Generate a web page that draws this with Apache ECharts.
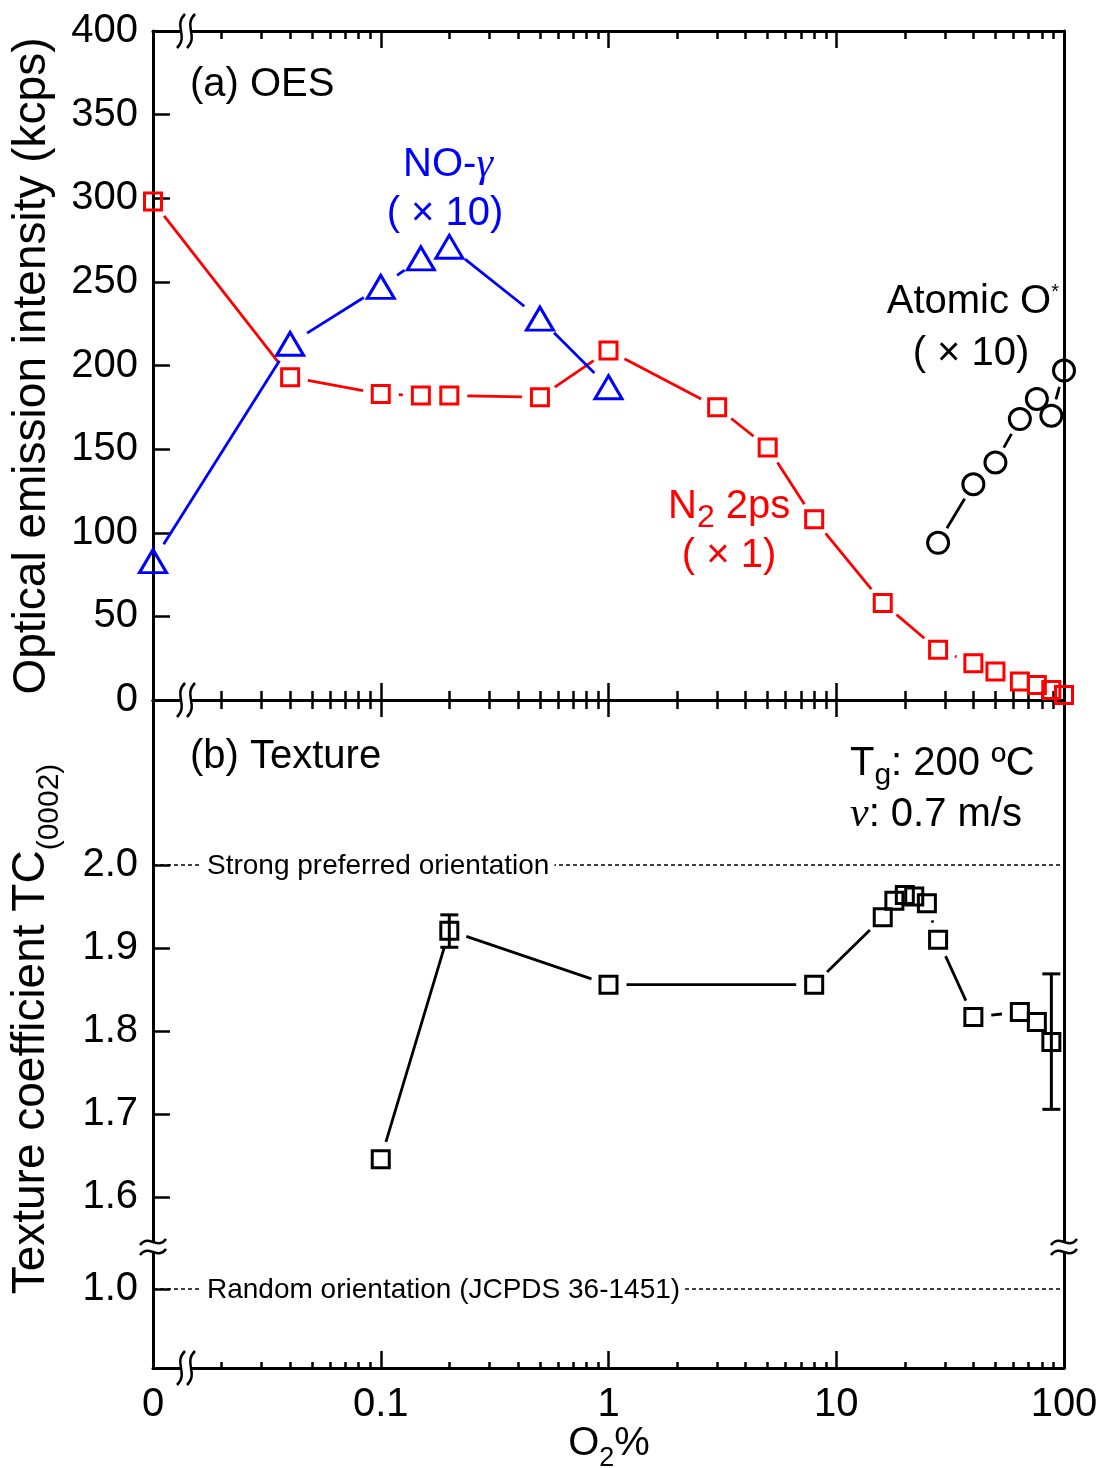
<!DOCTYPE html>
<html>
<head>
<meta charset="utf-8">
<title>OES and texture vs O2 ratio</title>
<script src="https://cdn.jsdelivr.net/npm/echarts@6/dist/echarts.min.js"></script>
<style>
  html, body { margin: 0; padding: 0; background: #fff; }
  #chart { width: 1102px; height: 1468px; }
</style>
</head>
<body>
<div id="chart"></div>
<script>
// ---- data -------------------------------------------------------------
// O2 ratio (%) of each measurement; 0 % is drawn at the left end of the log axis
const O2_N2 = [0, 0.04, 0.1, 0.15, 0.2, 0.5, 1, 3, 5, 8, 16, 28, 40, 50, 64, 76, 88, 100];
const N2_2PS = [298, 193, 183, 182, 182, 181, 209, 175, 151, 108, 58, 30, 22, 17, 11, 9, 6, 3];

const O2_NO = [0, 0.04, 0.1, 0.15, 0.2, 0.5, 1];
const NO_GAMMA_X10 = [83, 213, 247, 264, 271, 228, 187];

const O2_ATOMIC = [28, 40, 50, 64, 76, 88, 100];
const ATOMIC_O_X10 = [94, 129, 142, 168, 180, 170, 197];

const O2_TEX = [0.1, 0.2, 1, 8, 16, 18, 20, 22, 25, 28, 40, 64, 76, 88];
const TC_0002 = [1.646, 1.921, 1.856, 1.856, 1.937, 1.957, 1.964, 1.962, 1.954, 1.910, 1.817, 1.823, 1.811, 1.787];

const TC_ERR_O2 = [0.2, 88];
const TC_ERR_LOW = [1.901, 1.706];
const TC_ERR_HIGH = [1.940, 1.869];

const TC_UPPER_TICKS = [1.6, 1.7, 1.8, 1.9, 2.0];
const TC_LOWER_TICKS = [1.0];
const X_TICK_VALUES = [0.01, 0.1, 1, 10, 100];
const X_TICK_TEXT = ['0', '0.1', '1', '10', '100'];

const STRONG_LEVEL = [2.0];
const STRONG_TEXT = ['Strong preferred orientation'];
const RANDOM_LEVEL = [1.0];
const RANDOM_TEXT = ['Random orientation (JCPDS 36-1451)'];

// ---- helpers ----------------------------------------------------------
const X_MIN = 0.01, X_MAX = 100;
const toX = v => (v === 0 ? X_MIN : v);

const FONT = "'Liberation Sans', Arial, Helvetica, sans-serif";
const SERIF = "'Liberation Serif', 'Times New Roman', serif";
const RED = '#ff0000', BLUE = '#0000ff', BLACK = '#000000';

// frame geometry (px)
const LEFT = 153, RIGHT = 1064, TOP = 31, MID = 700, BRK = 1245, BOTTOM = 1368;
const WIDTH = RIGHT - LEFT;
const PX_PER_TC = 831;  // px per 1.0 of texture coefficient
const TICK_FONT = 40;

function xAxis(gridIndex, position, minorLen, withLabels) {
  return {
    type: 'log', logBase: 10, gridIndex, position, min: X_MIN, max: X_MAX,
    axisLine: { show: true, onZero: false, lineStyle: { color: BLACK, width: 3 } },
    axisTick: { show: true, inside: true, length: 17, lineStyle: { color: BLACK, width: 2.5 } },
    minorTick: { show: true, splitNumber: 9, length: minorLen, lineStyle: { color: BLACK, width: 2.5 } },
    splitLine: { show: false }, minorSplitLine: { show: false },
    axisLabel: withLabels ? {
      show: true, color: BLACK, fontFamily: FONT, fontSize: TICK_FONT, margin: 17,
      formatter: v => {
        const i = X_TICK_VALUES.findIndex(t => Math.abs(Math.log10(t) - Math.log10(v)) < 1e-6);
        return i >= 0 ? X_TICK_TEXT[i] : '';
      }
    } : { show: false }
  };
}

function frameYAxis(gridIndex, min, max) {
  return {
    type: 'value', gridIndex, position: 'right', min, max,
    axisLine: { show: true, onZero: false, lineStyle: { color: BLACK, width: 3 } },
    axisTick: { show: false }, axisLabel: { show: false }, splitLine: { show: false }
  };
}

function tcYAxis(gridIndex, min, max, ticks) {
  return {
    type: 'value', gridIndex, position: 'left', min, max,
    axisLine: { show: true, onZero: false, lineStyle: { color: BLACK, width: 3 } },
    axisTick: { show: true, inside: true, length: 17, customValues: ticks, lineStyle: { color: BLACK, width: 2.5 } },
    axisLabel: { show: true, customValues: ticks, color: BLACK, fontFamily: FONT, fontSize: TICK_FONT, margin: 15,
                 formatter: v => Number(v).toFixed(1) },
    splitLine: { show: false }
  };
}

// connecting lines stop short of each marker
function segments(xs, ys, color, gap, xIdx, yIdx) {
  const data = [];
  for (let i = 0; i < xs.length - 1; i++) data.push([toX(xs[i]), ys[i], toX(xs[i + 1]), ys[i + 1]]);
  return {
    type: 'custom', xAxisIndex: xIdx, yAxisIndex: yIdx, data, z: 3, silent: true, clip: false,
    encode: { x: [0, 2], y: [1, 3] },
    renderItem: (params, api) => {
      const a = api.coord([api.value(0), api.value(1)]);
      const b = api.coord([api.value(2), api.value(3)]);
      const dx = b[0] - a[0], dy = b[1] - a[1], d = Math.hypot(dx, dy);
      if (d <= 2 * gap + 1) return null;
      const ux = dx / d, uy = dy / d;
      return {
        type: 'line',
        shape: { x1: a[0] + ux * gap, y1: a[1] + uy * gap, x2: b[0] - ux * gap, y2: b[1] - uy * gap },
        style: { stroke: color, lineWidth: 2.8 }
      };
    }
  };
}

function markers(xs, ys, color, symbol, size, xIdx, yIdx) {
  return {
    type: 'scatter', xAxisIndex: xIdx, yAxisIndex: yIdx, symbol, symbolSize: size,
    data: xs.map((x, i) => [toX(x), ys[i]]), z: 5, silent: true, clip: false,
    itemStyle: { color: 'rgba(0,0,0,0)', borderColor: color, borderWidth: 3, opacity: 1 }
  };
}

function refLine(levels, texts, xIdx, yIdx) {
  return {
    type: 'custom', xAxisIndex: xIdx, yAxisIndex: yIdx, z: 2, silent: true, clip: false,
    data: levels.map((lv, i) => [X_MIN, lv, X_MAX, i]),
    encode: { x: [0, 2], y: 1 },
    renderItem: (params, api) => {
      const a = api.coord([api.value(0), api.value(1)]);
      const b = api.coord([api.value(2), api.value(1)]);
      return {
        type: 'group',
        children: [
          { type: 'line', shape: { x1: a[0], y1: a[1], x2: b[0], y2: b[1] },
            style: { stroke: BLACK, lineWidth: 1.4, lineDash: [4, 3] } },
          { type: 'text', x: a[0] + 49, y: a[1] + 1, z2: 10,
            style: { text: texts[api.value(3)], fill: BLACK, fontFamily: FONT, fontSize: 28,
                     align: 'left', verticalAlign: 'middle', backgroundColor: '#fff', padding: [2, 5] } }
        ]
      };
    }
  };
}

function errorBars(xs, lows, highs, xIdx, yIdx) {
  return {
    type: 'custom', xAxisIndex: xIdx, yAxisIndex: yIdx, z: 4, silent: true, clip: false,
    data: xs.map((x, i) => [x, lows[i], highs[i]]),
    encode: { x: 0, y: [1, 2] },
    renderItem: (params, api) => {
      const lo = api.coord([api.value(0), api.value(1)]);
      const hi = api.coord([api.value(0), api.value(2)]);
      const st = { stroke: BLACK, lineWidth: 3 };
      return {
        type: 'group',
        children: [
          { type: 'line', shape: { x1: lo[0], y1: lo[1], x2: hi[0], y2: hi[1] }, style: st },
          { type: 'line', shape: { x1: lo[0] - 9, y1: lo[1], x2: lo[0] + 9, y2: lo[1] }, style: st },
          { type: 'line', shape: { x1: hi[0] - 9, y1: hi[1], x2: hi[0] + 9, y2: hi[1] }, style: st }
        ]
      };
    }
  };
}

// top padding that lowers a subscript token below the main baseline
function subPad(mainSize, subSize, drop) {
  return mainSize / 2 + 0.33 * mainSize + drop - 0.33 * subSize - subSize / 2;
}
function mainTok(color, size) {
  return { fill: color, fontFamily: FONT, fontSize: size, verticalAlign: 'top' };
}
function subTok(color, mainSize, subSize, drop) {
  return { fill: color, fontFamily: FONT, fontSize: subSize, verticalAlign: 'top',
           padding: [subPad(mainSize, subSize, drop), 0, 0, 0] };
}

// ---- axis breaks --------------------------------------------------------
function xBreak(cx, cy) {
  const s = { stroke: BLACK, lineWidth: 2.5, fill: null };
  const curve = px => ({
    type: 'bezierCurve', z: 101,
    shape: { x1: px + 4, y1: cy - 17, cpx1: px - 8, cpy1: cy - 5, cpx2: px + 8, cpy2: cy + 5, x2: px - 4, y2: cy + 17 },
    style: s
  });
  return [
    { type: 'rect', z: 100, shape: { x: cx - 5, y: cy - 3, width: 10, height: 6 }, style: { fill: '#fff' } },
    curve(cx - 5), curve(cx + 5)
  ];
}
function yBreak(cx, cy) {
  const s = { stroke: BLACK, lineWidth: 2.5, fill: null };
  const wave = py => ({
    type: 'bezierCurve', z: 101,
    shape: { x1: cx - 13, y1: py + 3, cpx1: cx - 4, cpy1: py - 9, cpx2: cx + 4, cpy2: py + 9, x2: cx + 13, y2: py - 3 },
    style: s
  });
  return [
    { type: 'rect', z: 100, shape: { x: cx - 4, y: cy - 4, width: 8, height: 8 }, style: { fill: '#fff' } },
    wave(cy - 5), wave(cy + 5)
  ];
}

// ---- annotations -------------------------------------------------------
const AF = 40; // annotation font size
const texts = [
  { type: 'text', x: 190, y: 85, style: { text: '(a) OES', fill: BLACK, fontFamily: FONT, fontSize: AF, align: 'left', verticalAlign: 'middle' } },
  { type: 'text', x: 190, y: 757, style: { text: '(b) Texture', fill: BLACK, fontFamily: FONT, fontSize: AF, align: 'left', verticalAlign: 'middle' } },
  { type: 'text', x: 448, y: 165, style: {
      text: '{m|NO-}{g|γ}', align: 'center', verticalAlign: 'middle',
      rich: { m: { fill: BLUE, fontFamily: FONT, fontSize: AF, verticalAlign: 'middle' },
              g: { fill: BLUE, fontFamily: SERIF, fontStyle: 'italic', fontSize: 42, verticalAlign: 'middle' } } } },
  { type: 'text', x: 445, y: 214, style: { text: '( × 10)', fill: BLUE, fontFamily: FONT, fontSize: AF, align: 'center', verticalAlign: 'middle' } },
  { type: 'text', x: 1059, y: 302 - AF / 2, style: {
      text: '{m|Atomic O}{s|*}', align: 'right', verticalAlign: 'top',
      rich: { m: mainTok(BLACK, AF),
              s: { fill: BLACK, fontFamily: FONT, fontSize: 20, verticalAlign: 'top' } } } },
  { type: 'text', x: 971, y: 354, style: { text: '( × 10)', fill: BLACK, fontFamily: FONT, fontSize: AF, align: 'center', verticalAlign: 'middle' } },
  { type: 'text', x: 668, y: 507 - AF / 2, style: {
      text: '{m|N}{s|2}{m| 2ps}', align: 'left', verticalAlign: 'top',
      rich: { m: mainTok(RED, AF), s: subTok(RED, AF, 32, 9) } } },
  { type: 'text', x: 729, y: 556, style: { text: '( × 1)', fill: RED, fontFamily: FONT, fontSize: AF, align: 'center', verticalAlign: 'middle' } },
  { type: 'text', x: 850, y: 764 - AF / 2, style: {
      text: '{m|T}{s|g}{m|: 200 ºC}', align: 'left', verticalAlign: 'top',
      rich: { m: mainTok(BLACK, AF), s: subTok(BLACK, AF, 30, 8) } } },
  { type: 'text', x: 850, y: 815, style: {
      text: '{v|v}{m|: 0.7 m/s}', align: 'left', verticalAlign: 'middle',
      rich: { v: { fill: BLACK, fontFamily: SERIF, fontStyle: 'italic', fontSize: 42, verticalAlign: 'middle' },
              m: { fill: BLACK, fontFamily: FONT, fontSize: AF, verticalAlign: 'middle' } } } },
  // axis titles
  { type: 'text', x: 32, y: 366, rotation: Math.PI / 2, style: {
      text: 'Optical emission intensity (kcps)', fill: BLACK, fontFamily: FONT, fontSize: 46, align: 'center', verticalAlign: 'middle' } },
  { type: 'text', x: 8, y: 1029, rotation: Math.PI / 2, style: {
      text: '{m|Texture coefficient TC}{s|(0002)}', align: 'center', verticalAlign: 'top',
      rich: { m: mainTok(BLACK, 46), s: subTok(BLACK, 46, 30, 13) } } },
  { type: 'text', x: 609, y: 1444 - 20, style: {
      text: '{m|O}{s|2}{m|%}', align: 'center', verticalAlign: 'top',
      rich: { m: mainTok(BLACK, 40), s: subTok(BLACK, 40, 27, 10) } } }
];

const graphics = []
  .concat(xBreak(186, TOP), xBreak(186, MID), xBreak(186, BOTTOM))
  .concat(yBreak(LEFT, 1247), yBreak(RIGHT, 1247))
  .concat(texts.map(t => Object.assign({ z: 110 }, t)));

// ---- chart -------------------------------------------------------------
const tcUpperMax = 2.0 + (865 - MID) / PX_PER_TC;
const tcUpperMin = 2.0 - (BRK - 865) / PX_PER_TC;
const tcLowerMax = 1.0 + (1289 - BRK) / PX_PER_TC;
const tcLowerMin = 1.0 - (BOTTOM - 1289) / PX_PER_TC;

const option = {
  animation: false,
  backgroundColor: '#fff',
  textStyle: { fontFamily: FONT },
  grid: [
    { left: LEFT, top: TOP, width: WIDTH, height: MID - TOP, containLabel: false },
    { left: LEFT, top: MID, width: WIDTH, height: BRK - MID, containLabel: false },
    { left: LEFT, top: BRK, width: WIDTH, height: BOTTOM - BRK, containLabel: false }
  ],
  xAxis: [
    xAxis(0, 'bottom', 9, false),
    xAxis(0, 'top', 8, false),
    xAxis(1, 'top', 9, false),
    xAxis(2, 'bottom', 6, true)
  ],
  yAxis: [
    {
      type: 'value', gridIndex: 0, position: 'left', min: 0, max: 400, interval: 50,
      axisLine: { show: true, onZero: false, lineStyle: { color: BLACK, width: 3 } },
      axisTick: { show: true, inside: true, length: 17, lineStyle: { color: BLACK, width: 2.5 } },
      axisLabel: { show: true, color: BLACK, fontFamily: FONT, fontSize: TICK_FONT, margin: 15 },
      splitLine: { show: false }
    },
    frameYAxis(0, 0, 400),
    tcYAxis(1, tcUpperMin, tcUpperMax, TC_UPPER_TICKS),
    frameYAxis(1, tcUpperMin, tcUpperMax),
    tcYAxis(2, tcLowerMin, tcLowerMax, TC_LOWER_TICKS),
    frameYAxis(2, tcLowerMin, tcLowerMax)
  ],
  series: [
    // (a) OES
    segments(O2_N2, N2_2PS, RED, 18, 0, 0),
    segments(O2_NO, NO_GAMMA_X10, BLUE, 20, 0, 0),
    segments(O2_ATOMIC, ATOMIC_O_X10, BLACK, 17, 0, 0),
    markers(O2_N2, N2_2PS, RED, 'rect', 17, 0, 0),
    markers(O2_NO, NO_GAMMA_X10, BLUE, 'triangle', [27, 23], 0, 0),
    markers(O2_ATOMIC, ATOMIC_O_X10, BLACK, 'circle', 21, 0, 0),
    // (b) texture
    refLine(STRONG_LEVEL, STRONG_TEXT, 2, 2),
    refLine(RANDOM_LEVEL, RANDOM_TEXT, 3, 4),
    segments(O2_TEX, TC_0002, BLACK, 18, 2, 2),
    errorBars(TC_ERR_O2, TC_ERR_LOW, TC_ERR_HIGH, 2, 2),
    markers(O2_TEX, TC_0002, BLACK, 'rect', 17, 2, 2)
  ],
  graphic: graphics
};

const chart = echarts.init(document.getElementById('chart'), null, { renderer: 'canvas' });
chart.setOption(option);
</script>
</body>
</html>
